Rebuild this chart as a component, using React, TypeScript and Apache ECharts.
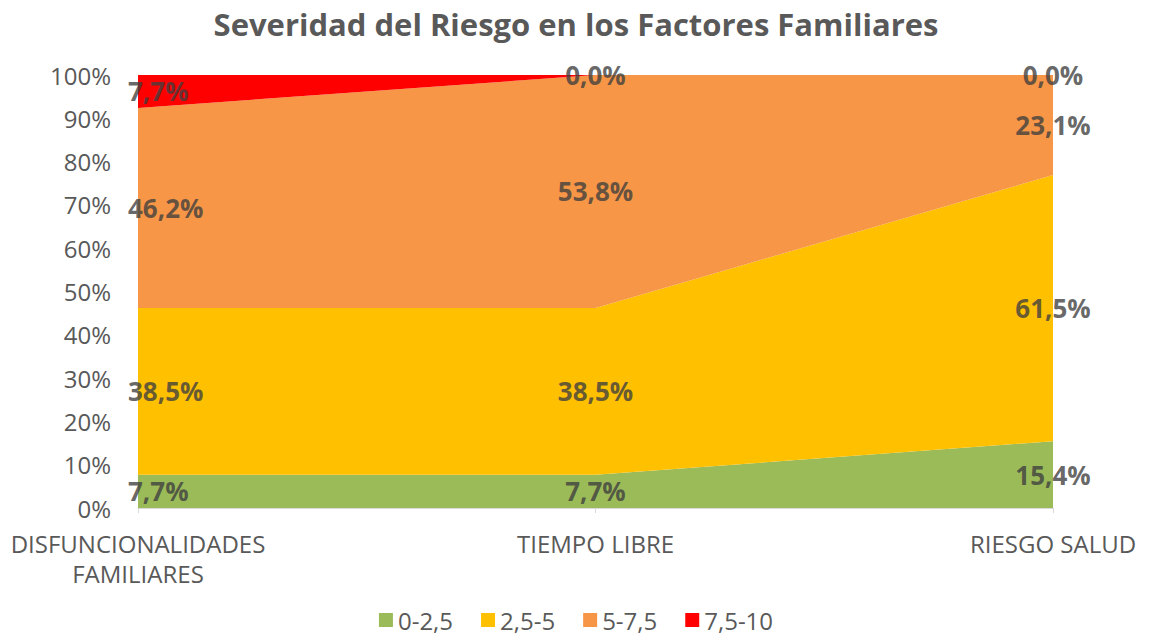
import React, { useEffect, useRef } from "react";
import * as echarts from "echarts";

const categories = ["DISFUNCIONALIDADES\nFAMILIARES", "TIEMPO LIBRE", "RIESGO SALUD"];
const seriesNames = ["0-2,5", "2,5-5", "5-7,5", "7,5-10"];
const s1 = [7.7, 7.7, 15.4];
const s2 = [38.5, 38.5, 61.5];
const s3 = [46.2, 53.8, 23.1];
const s4 = [7.7, 0.0, 0.0];
const colors = ["#9BBB59", "#FFC000", "#F79646", "#FF0000"];
const yTicks = [0, 10, 20, 30, 40, 50, 60, 70, 80, 90, 100];

const FONT = "'Open Sans', sans-serif";

export default function App() {
  const ref = useRef<HTMLDivElement>(null);
  useEffect(() => {
    document.body.style.margin = "0";
    const chart = echarts.init(ref.current!, undefined, { renderer: "svg" });
    const all = [s1, s2, s3, s4];
    const areaSeries = all.map((d, i) => ({
      name: seriesNames[i],
      type: "line",
      stack: "total",
      data: d,
      symbol: "none",
      lineStyle: { width: 0 },
      areaStyle: { color: colors[i], opacity: 1 },
      itemStyle: { color: colors[i] },
      z: 2,
    }));
    const labelSeries = all.map((d, i) => ({
      name: "lbl" + i,
      type: "scatter",
      symbolSize: 1,
      itemStyle: { color: "rgba(0,0,0,0)" },
      clip: false,
      z: 5,
      data: d.map((v, j) => {
        let below = 0;
        for (let k = 0; k < i; k++) below += all[k][j];
        const mid = Math.min(below + v / 2, 100);
        return {
          value: [j, mid],
          raw: v,
          label: j === 0 ? { align: "left", offset: [-10, 0] } : {},
        };
      }),
      label: {
        show: true,
        position: "inside",
        formatter: (p: any) => p.data.raw.toFixed(1).replace(".", ",") + "%",
        color: "#3F3F3F",
        textBorderWidth: 0,
        fontWeight: "bold",
        fontSize: 26,
        fontFamily: FONT,
      },
    }));
    chart.setOption({
      animation: false,
      title: {
        text: "Severidad del Riesgo en los Factores Familiares",
        left: "center",
        top: 3,
        textStyle: { color: "#595959", fontSize: 31, fontWeight: "bold", fontFamily: FONT },
      },
      legend: {
        bottom: 1,
        left: "center",
        data: seriesNames,
        icon: "rect",
        itemWidth: 14,
        itemHeight: 14,
        itemGap: 28,
        textStyle: { color: "#595959", fontSize: 24, fontFamily: FONT },
      },
      grid: { left: 138, right: 99, top: 75, bottom: 130 },
      xAxis: {
        type: "category",
        boundaryGap: false,
        data: categories,
        axisLine: { lineStyle: { color: "#D9D9D9" } },
        axisTick: { show: true, lineStyle: { color: "#D9D9D9" } },
        axisLabel: {
          color: "#595959",
          fontSize: 24,
          fontFamily: FONT,
          margin: 20,
          lineHeight: 30,
          interval: 0,
        },
      },
      yAxis: {
        type: "value",
        min: 0,
        max: 100,
        interval: 10,
        axisLine: { show: true, lineStyle: { color: "#D9D9D9" } },
        splitLine: { show: false },
        axisLabel: {
          color: "#595959",
          fontSize: 24,
          fontFamily: FONT,
          margin: 27,
          formatter: (v: number) => (yTicks.includes(v) ? v + "%" : ""),
        },
      },
      series: [...areaSeries, ...labelSeries],
    });
    return () => chart.dispose();
  }, []);
  return <div ref={ref} style={{ width: 1152, height: 638 }} />;
}
